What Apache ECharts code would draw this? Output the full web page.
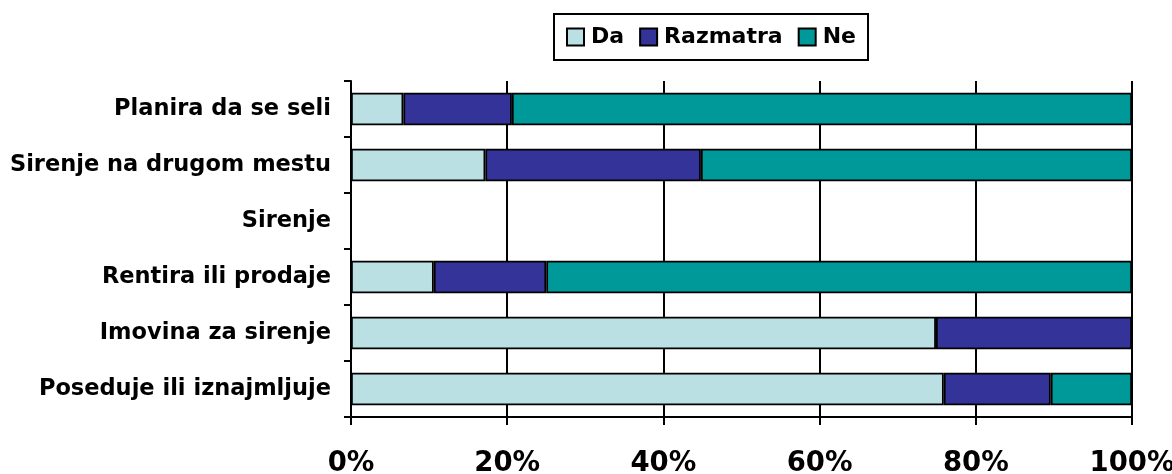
<!DOCTYPE html>
<html>
<head>
<meta charset="utf-8">
<script src="https://cdn.jsdelivr.net/npm/echarts@6/dist/echarts.min.js"></script>
<style>
  html, body { margin: 0; padding: 0; background: #fff; }
  #chart { width: 1172px; height: 474px; }
</style>
</head>
<body>
<div id="chart"></div>
<script>
// top-to-bottom order
const categories = ['Planira da se seli', 'Sirenje na drugom mestu', 'Sirenje', 'Rentira ili prodaje', 'Imovina za sirenje', 'Poseduje ili iznajmljuje'];
const daValues = [6.7, 17.2, null, 10.6, 74.9, 75.9];
const razmatraValues = [13.9, 27.6, null, 14.4, 25.1, 13.7];
const neValues = [79.4, 55.2, null, 75.0, null, 10.4];

const font = '"DejaVu Sans", sans-serif';

function makeSeries(name, data, color) {
    return {
        name: name,
        type: 'bar',
        stack: 'total',
        data: data,
        barCategoryGap: '42%',
        itemStyle: { color: color, borderColor: '#000', borderWidth: 1.8 }
    };
}

const myChart = echarts.init(document.getElementById('chart'));
myChart.setOption({
    animation: false,
    legend: {
        top: 14,
        left: 554,
        padding: [12, 12, 12, 12],
        itemGap: 15,
        itemWidth: 17,
        itemHeight: 17,
        icon: 'rect',
        borderColor: '#000',
        borderWidth: 2,
        itemStyle: { borderColor: '#000', borderWidth: 2 },
        textStyle: { fontFamily: font, fontWeight: 'bold', fontSize: 22, color: '#000', padding: [0, 0, 0, 2] },
        data: ['Da', 'Razmatra', 'Ne']
    },
    grid: { left: 351, right: 40, top: 81, bottom: 57, containLabel: false, outerBoundsMode: 'none' },
    xAxis: {
        type: 'value',
        min: 0,
        max: 100,
        interval: 20,
        axisLine: { show: true, lineStyle: { color: '#000', width: 2 } },
        axisTick: { show: true, length: 8, lineStyle: { color: '#000', width: 2 } },
        splitLine: { show: true, lineStyle: { color: '#000', width: 2 } },
        axisLabel: {
            formatter: '{value}%',
            fontFamily: font, fontWeight: 'bold', fontSize: 27.5, color: '#000',
            margin: 33
        }
    },
    yAxis: {
        type: 'category',
        inverse: true,
        data: categories,
        axisLine: { show: true, lineStyle: { color: '#000', width: 2 } },
        axisTick: { show: true, length: 7, lineStyle: { color: '#000', width: 2 } },
        axisLabel: {
            fontFamily: font, fontWeight: 'bold', fontSize: 22.5, color: '#000',
            margin: 20
        }
    },
    series: [
        makeSeries('Da', daValues, '#BBE0E3'),
        makeSeries('Razmatra', razmatraValues, '#333399'),
        makeSeries('Ne', neValues, '#009999')
    ]
});
</script>
</body>
</html>
